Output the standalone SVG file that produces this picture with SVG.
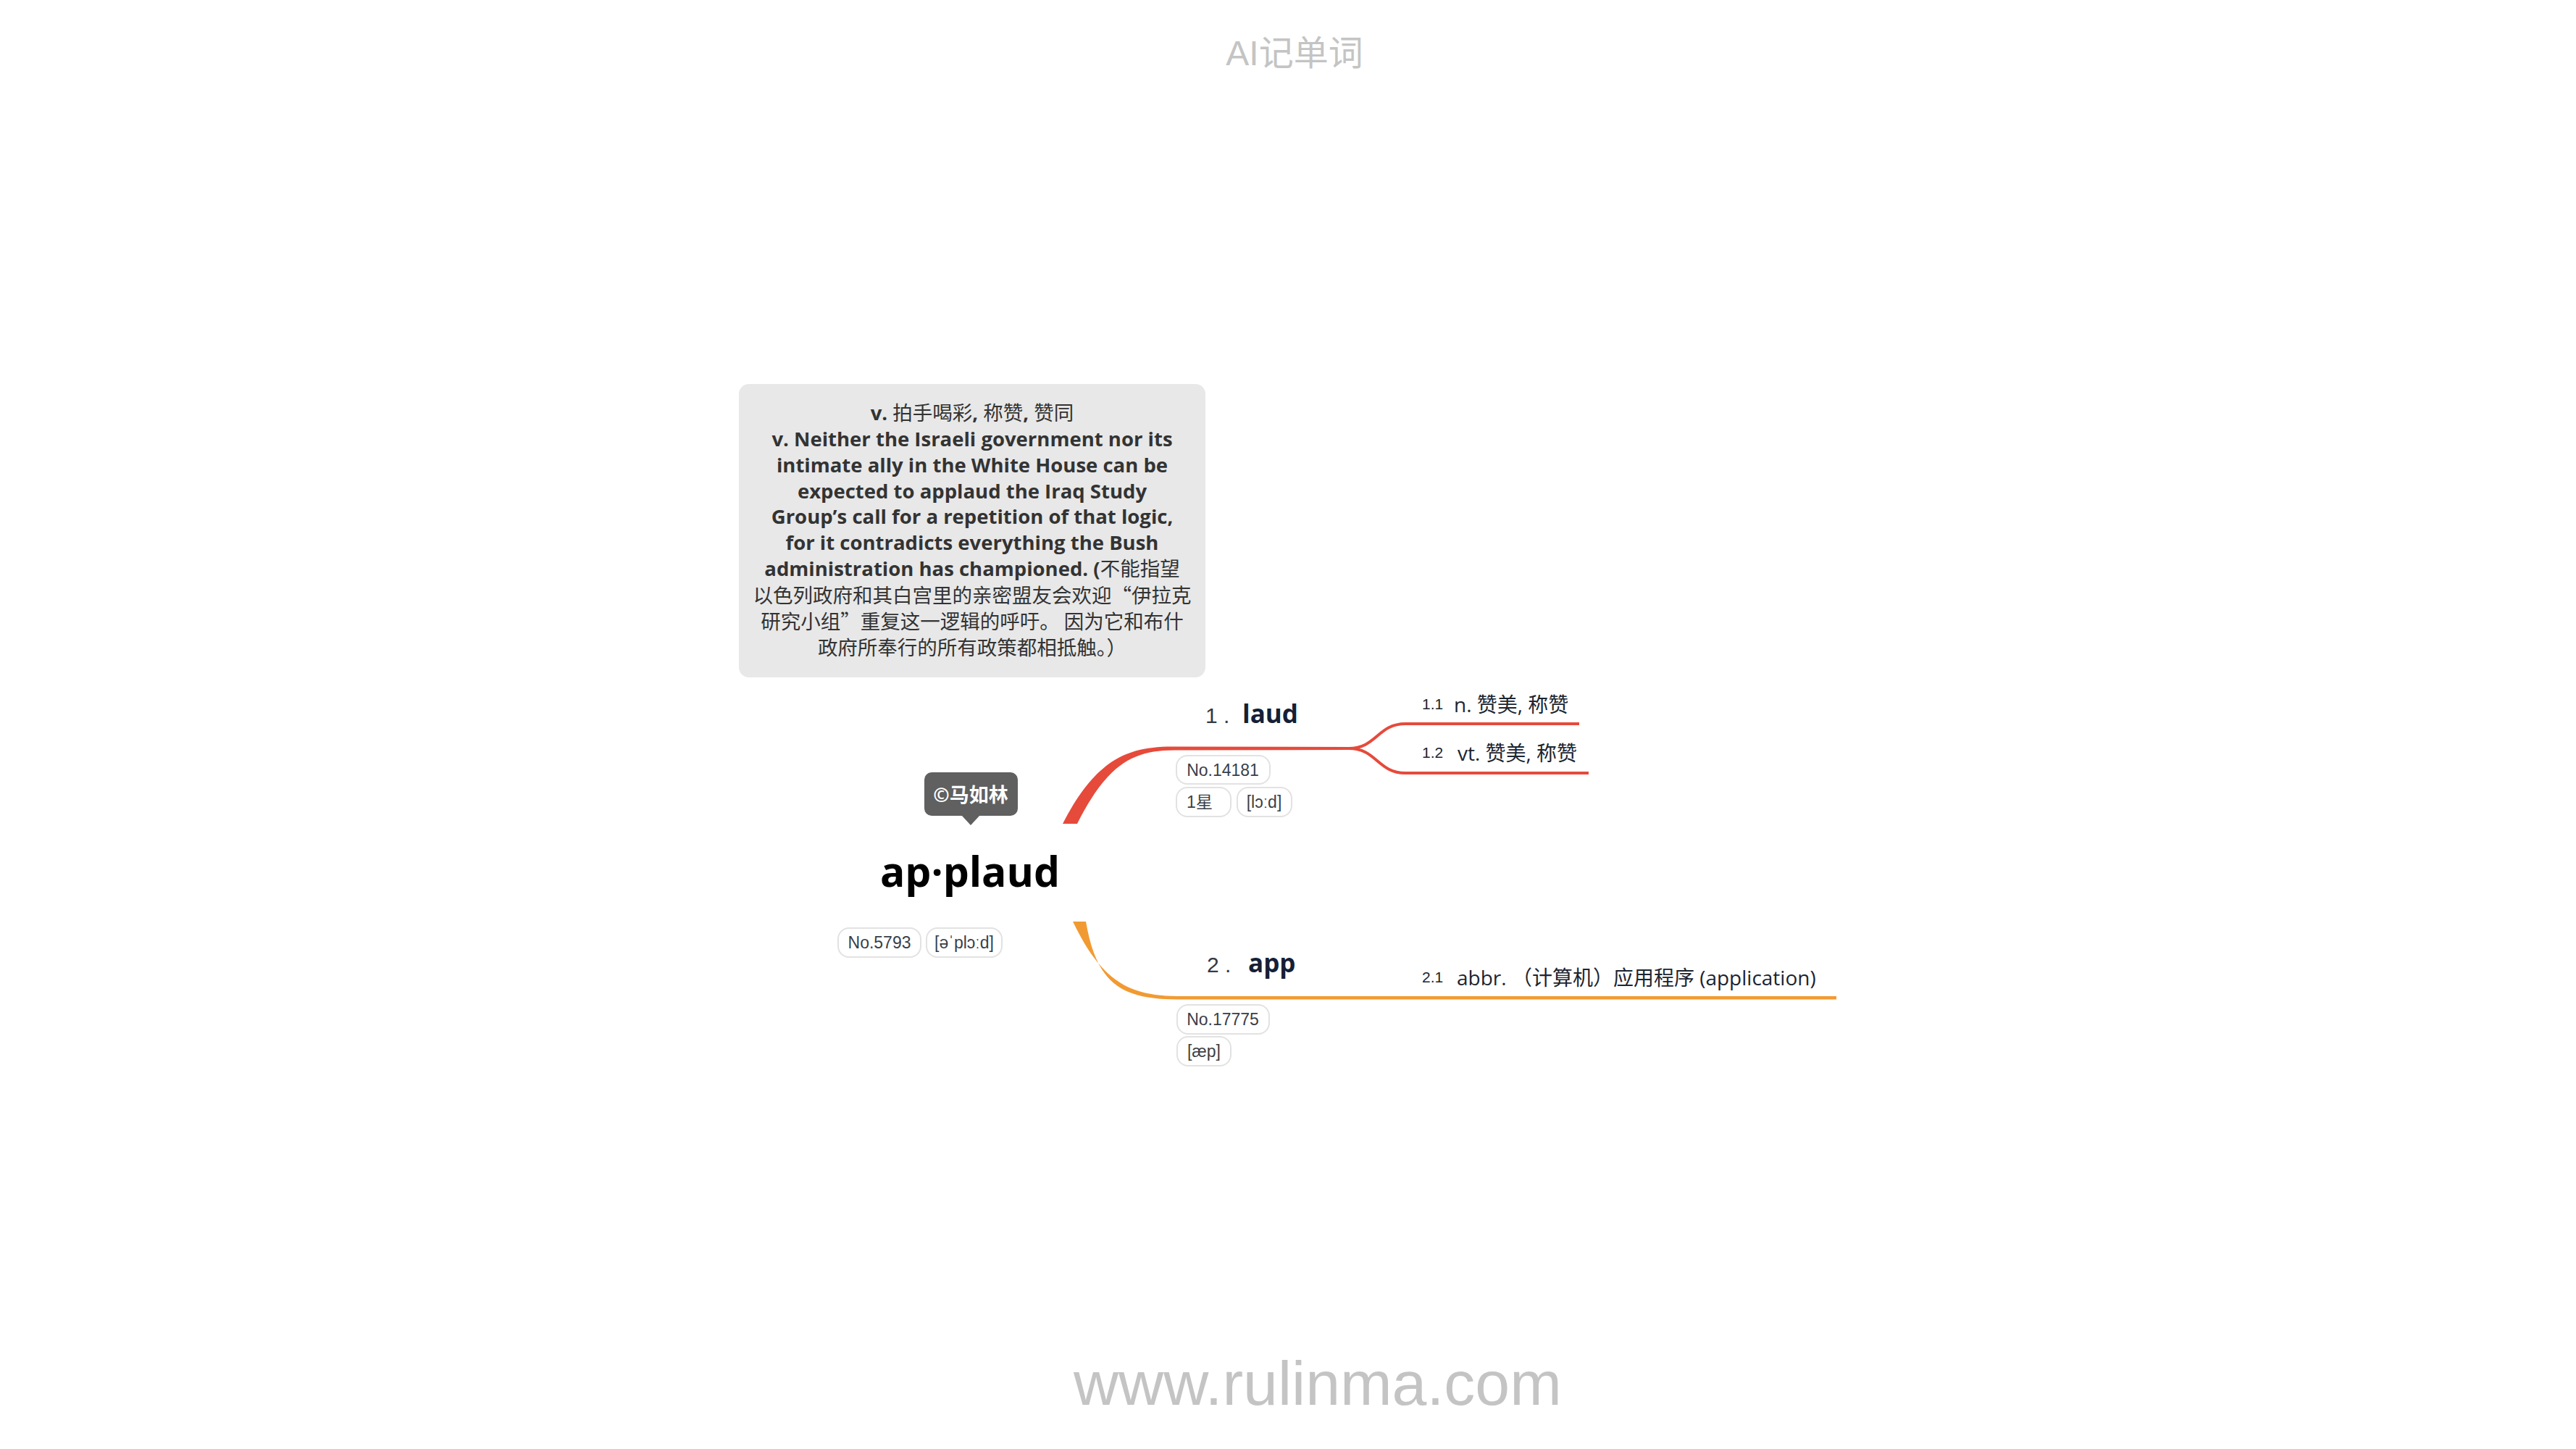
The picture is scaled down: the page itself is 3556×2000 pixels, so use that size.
<svg xmlns="http://www.w3.org/2000/svg" width="3556" height="2000" viewBox="0 0 3556 2000">
<style>
.bg{fill:#ffffff}
.wm{fill:#c4c4c4;font-family:"Liberation Sans","Noto Sans CJK SC",sans-serif}
.note{fill:#e8e8e8}
.nl{font-family:"Open Sans","Noto Sans CJK SC",sans-serif;font-weight:bold;font-size:27.5px;fill:#333333;text-anchor:middle}
.cj{font-family:"Noto Sans CJK SC",sans-serif;font-weight:normal;font-size:27.5px}
.tag{fill:#ffffff;stroke:#e2e2e2;stroke-width:2}
.tt{font-family:"Liberation Sans","Noto Sans CJK SC",sans-serif;font-size:23px;fill:#3a3f48;text-anchor:middle}
.num{font-family:"Liberation Sans",sans-serif;font-size:30px;fill:#333a44}
.ttl{font-family:"Open Sans",sans-serif;font-weight:bold;font-size:35px;fill:#142036}
.sn{font-family:"Liberation Sans",sans-serif;font-size:21px;fill:#1c2530}
.def{font-family:"Open Sans","Noto Sans CJK SC",sans-serif;font-size:28px;fill:#1c2530}
.red{fill:#e64a3b}
.redl{fill:none;stroke:#e64a3b;stroke-width:4;stroke-linecap:butt}
.org{fill:#f29a32}
</style>
<rect class="bg" x="0" y="0" width="3556" height="2000"/>
<text class="wm" x="1787" y="90" font-size="48" text-anchor="middle">AI记单词</text>
<text class="wm" x="1482" y="1939" font-size="86">www.rulinma.com</text>

<g id="connectors">
<path class="red" d="M1467,1137 C1512,1049 1556,1030 1620,1030.5 L1865,1031 L1865,1035 L1620,1035.5 C1564,1036 1529,1054 1487,1137 Z"/>
<path class="redl" d="M1862,1033 C1900,1033 1902,999 1940,999 L2180,999"/>
<path class="redl" d="M1862,1033 C1900,1033 1902,1067 1940,1067 L2193,1067"/>
<path class="org" d="M1481,1272 C1520,1353 1557,1374.5 1625,1375 L2535,1375 L2535,1379.5 L1625,1379.5 C1550,1379 1514,1360 1499,1272 Z"/>
</g>

<g id="note">
<rect class="note" x="1020" y="530" width="644" height="405" rx="14"/>
<text class="nl" x="1342" y="580">v. <tspan class="cj">拍手喝彩</tspan>, <tspan class="cj">称赞</tspan>, <tspan class="cj">赞同</tspan></text>
<text class="nl" x="1342" y="616">v. Neither the Israeli government nor its</text>
<text class="nl" x="1342" y="652">intimate ally in the White House can be</text>
<text class="nl" x="1342" y="688">expected to applaud the Iraq Study</text>
<text class="nl" x="1342" y="723">Group’s call for a repetition of that logic,</text>
<text class="nl" x="1342" y="759">for it contradicts everything the Bush</text>
<text class="nl" x="1342" y="795">administration has championed. (<tspan class="cj">不能指望</tspan></text>
<text class="nl cj" x="1342" y="832">以色列政府和其白宫里的亲密盟友会欢迎“伊拉克</text>
<text class="nl cj" x="1342" y="868">研究小组”重复这一逻辑的呼吁。 因为它和布什</text>
<text class="nl cj" x="1342" y="904">政府所奉行的所有政策都相抵触。）</text>
</g>

<g id="root">
<rect x="1276" y="1066" width="129" height="60" rx="10" fill="#606060"/>
<path d="M1327,1125 L1353,1125 L1340,1139 Z" fill="#606060"/>
<text x="1340" y="1107" font-family="Open Sans,Noto Sans CJK SC,sans-serif" font-weight="bold" font-size="27" fill="#ffffff" text-anchor="middle">©马如林</text>
<text x="1339" y="1224" font-family="Open Sans,sans-serif" font-weight="bold" font-size="57" fill="#000000" text-anchor="middle">ap·plaud</text>
<rect class="tag" x="1157" y="1281" width="114" height="40" rx="15"/>
<text class="tt" x="1214" y="1309">No.5793</text>
<rect class="tag" x="1279" y="1281" width="104" height="40" rx="15"/>
<text class="tt" x="1331" y="1309">[əˈplɔːd]</text>
</g>

<g id="node-1">
<text class="num" x="1664" y="998" xml:space="preserve">1 .</text>
<text class="ttl" x="1715" y="998">laud</text>
<rect class="tag" x="1624" y="1043" width="129" height="39" rx="15"/>
<text class="tt" x="1688" y="1071">No.14181</text>
<rect class="tag" x="1624" y="1087" width="75" height="40" rx="15"/>
<text class="tt" x="1656" y="1115">1星</text>
<rect class="tag" x="1708" y="1087" width="75" height="40" rx="15"/>
<text class="tt" x="1745" y="1115">[lɔːd]</text>
</g>

<g id="node-1-1">
<text class="sn" x="1963" y="979">1.1</text>
<text class="def" x="2007" y="983">n. 赞美, 称赞</text>
</g>

<g id="node-1-2">
<text class="sn" x="1963" y="1046">1.2</text>
<text class="def" x="2012" y="1050">vt. 赞美, 称赞</text>
</g>

<g id="node-2">
<text class="num" x="1666" y="1342" xml:space="preserve">2 .</text>
<text class="ttl" x="1723" y="1342">app</text>
<rect class="tag" x="1625" y="1387" width="127" height="40" rx="15"/>
<text class="tt" x="1688" y="1415">No.17775</text>
<rect class="tag" x="1625" y="1431" width="74" height="40" rx="15"/>
<text class="tt" x="1662" y="1459">[æp]</text>
</g>

<g id="node-2-1">
<text class="sn" x="1963" y="1356">2.1</text>
<text class="def" x="2011" y="1360" xml:space="preserve">abbr. （计算机）应用程序 (application)</text>
</g>
</svg>
